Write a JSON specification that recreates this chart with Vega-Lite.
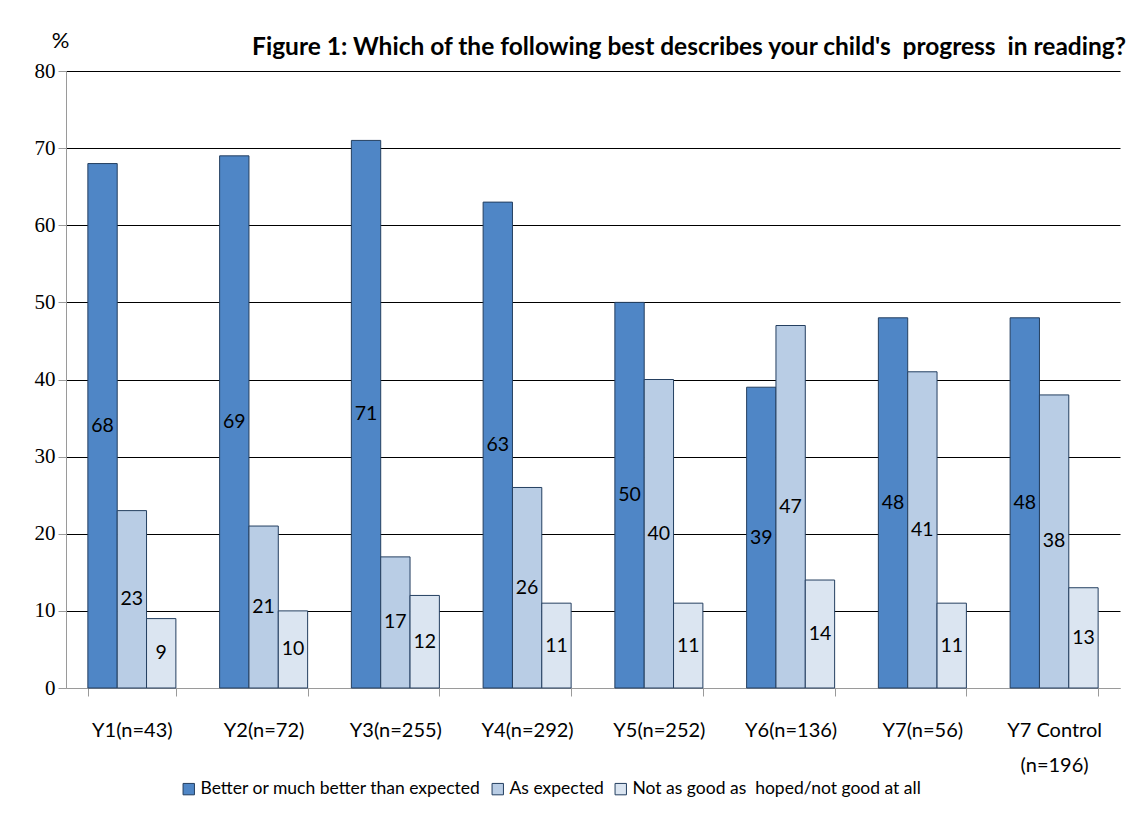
{
  "$schema": "https://vega.github.io/schema/vega-lite/v6.json",
  "width": 1054,
  "height": 617,
  "autosize": {"type": "none"},
  "padding": {"left": 66, "top": 71, "right": 16, "bottom": 130},
  "background": "white",
  "config": {
    "view": {"stroke": null},
    "font": "Lato"
  },
  "title": {
    "text": "Figure 1: Which of the following best describes your child's \u00a0progress \u00a0in reading?",
    "anchor": "end",
    "fontSize": 24.5,
    "fontWeight": "bold",
    "color": "black",
    "baseline": "alphabetic",
    "offset": 12,
    "dx": 6,
    "dy": 62
  },
  "data": {
    "values": [
      {"cat": "Y1(n=43)", "series": "Better or much better than expected", "value": 68},
      {"cat": "Y1(n=43)", "series": "As expected", "value": 23},
      {"cat": "Y1(n=43)", "series": "Not as good as \u00a0hoped/not good at all", "value": 9},
      {"cat": "Y2(n=72)", "series": "Better or much better than expected", "value": 69},
      {"cat": "Y2(n=72)", "series": "As expected", "value": 21},
      {"cat": "Y2(n=72)", "series": "Not as good as \u00a0hoped/not good at all", "value": 10},
      {"cat": "Y3(n=255)", "series": "Better or much better than expected", "value": 71},
      {"cat": "Y3(n=255)", "series": "As expected", "value": 17},
      {"cat": "Y3(n=255)", "series": "Not as good as \u00a0hoped/not good at all", "value": 12},
      {"cat": "Y4(n=292)", "series": "Better or much better than expected", "value": 63},
      {"cat": "Y4(n=292)", "series": "As expected", "value": 26},
      {"cat": "Y4(n=292)", "series": "Not as good as \u00a0hoped/not good at all", "value": 11},
      {"cat": "Y5(n=252)", "series": "Better or much better than expected", "value": 50},
      {"cat": "Y5(n=252)", "series": "As expected", "value": 40},
      {"cat": "Y5(n=252)", "series": "Not as good as \u00a0hoped/not good at all", "value": 11},
      {"cat": "Y6(n=136)", "series": "Better or much better than expected", "value": 39},
      {"cat": "Y6(n=136)", "series": "As expected", "value": 47},
      {"cat": "Y6(n=136)", "series": "Not as good as \u00a0hoped/not good at all", "value": 14},
      {"cat": "Y7(n=56)", "series": "Better or much better than expected", "value": 48},
      {"cat": "Y7(n=56)", "series": "As expected", "value": 41},
      {"cat": "Y7(n=56)", "series": "Not as good as \u00a0hoped/not good at all", "value": 11},
      {"cat": "Y7 Control (n=196)", "series": "Better or much better than expected", "value": 48},
      {"cat": "Y7 Control (n=196)", "series": "As expected", "value": 38},
      {"cat": "Y7 Control (n=196)", "series": "Not as good as \u00a0hoped/not good at all", "value": 13}
    ]
  },
  "encoding": {
    "x": {
      "field": "cat",
      "type": "nominal",
      "sort": null,
      "scale": {"paddingInner": 0.332, "paddingOuter": 0.166},
      "axis": {
        "title": null,
        "labelAngle": 0,
        "tickBand": "extent",
        "tickSize": 8,
        "tickColor": "#9a9a9a",
        "domainColor": "#9a9a9a",
        "labelFontSize": 20,
        "labelColor": "black",
        "labelPadding": 24,
        "labelLineHeight": 35,
        "labelExpr": "datum.value == 'Y7 Control (n=196)' ? ['Y7 Control', '(n=196)'] : datum.value"
      }
    },
    "xOffset": {
      "field": "series",
      "type": "nominal",
      "sort": ["Better or much better than expected", "As expected", "Not as good as \u00a0hoped/not good at all"]
    }
  },
  "layer": [
    {
      "mark": {"type": "bar", "stroke": "#243f60", "strokeWidth": 1},
      "encoding": {
        "y": {
          "field": "value",
          "type": "quantitative",
          "scale": {"domain": [0, 80]},
          "axis": {
            "values": [0, 10, 20, 30, 40, 50, 60, 70, 80],
            "grid": true,
            "gridColor": {"condition": {"test": "datum.value === 0", "value": "#9a9a9a"}, "value": "black"},
            "gridWidth": 1.2,
            "domainColor": "#9a9a9a",
            "tickColor": "#9a9a9a",
            "tickSize": 8,
            "labelFont": "Liberation Serif",
            "labelFontSize": 21,
            "labelColor": "black",
            "labelPadding": 3,
            "title": "%",
            "titleAngle": 0,
            "titleX": -6,
            "titleY": -24,
            "titleFontWeight": "normal",
            "titleFontSize": 22,
            "titleColor": "black",
            "titleAlign": "center",
            "titleBaseline": "alphabetic"
          }
        },
        "color": {
          "field": "series",
          "type": "nominal",
          "sort": ["Better or much better than expected", "As expected", "Not as good as \u00a0hoped/not good at all"],
          "scale": {"range": ["#4f86c6", "#b9cde5", "#dbe5f1"]},
          "legend": {
            "title": null,
            "orient": "none",
            "direction": "horizontal",
            "legendX": 114,
            "legendY": 709,
            "symbolType": "square",
            "symbolSize": 130,
            "symbolStrokeColor": "#243f60",
            "symbolStrokeWidth": 1,
            "symbolOpacity": 1,
            "labelFontSize": 17.5,
            "labelColor": "black",
            "labelOffset": 3,
            "columnPadding": 8,
            "labelLimit": 400
          }
        }
      }
    },
    {
      "mark": {"type": "text", "fontSize": 19.5, "baseline": "middle", "color": "black"},
      "encoding": {
        "y": {"field": "value", "type": "quantitative", "scale": {"domain": [0, 160]}, "axis": null},
        "text": {"field": "value", "type": "quantitative"}
      }
    }
  ],
  "resolve": {"scale": {"y": "independent"}}
}
